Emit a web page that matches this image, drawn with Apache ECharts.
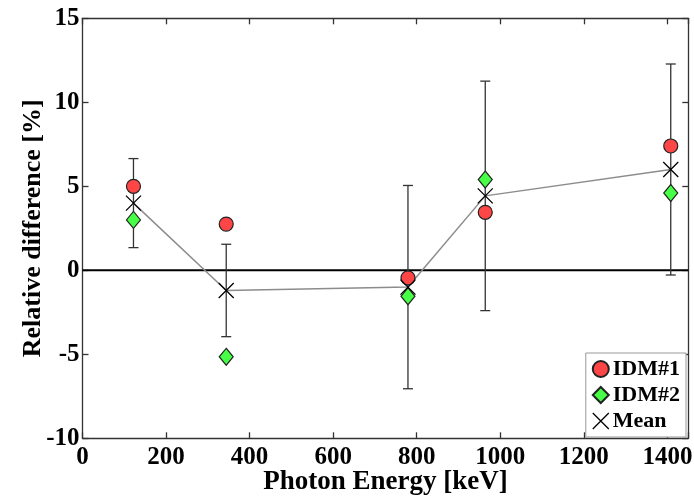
<!DOCTYPE html>
<html>
<head>
<meta charset="utf-8">
<script src="https://cdn.jsdelivr.net/npm/echarts@6/dist/echarts.min.js"></script>
<style>
  html, body { margin: 0; padding: 0; background: #fff; }
  #chart { width: 694px; height: 498px; }
</style>
</head>
<body>
<div id="chart"></div>
<script>
// Photon energies of the measured lines [keV]
const energies = [122, 344, 779, 964, 1408];
// Relative difference of each detector [%]
const idm1 = [5.0, 2.75, -0.45, 3.45, 7.4];
const idm2 = [3.0, -5.15, -1.55, 5.4, 4.6];
// Mean of both detectors and its uncertainty [%]
const meanVals = [4.0, -1.2, -1.0, 4.43, 6.0];
const meanErr = [2.65, 2.75, 6.05, 6.83, 6.28];
// Axis ticks
const xTicks = [0, 200, 400, 600, 800, 1000, 1200, 1400];
const yTicks = [-10, -5, 0, 5, 10, 15];

const FONT = '"Liberation Serif", "Times New Roman", serif';
const AXIS_COLOR = '#333';
const crossPath = 'path://M0,0L10,10M10,0L0,10';

const pairs = (ys) => energies.map((x, i) => [x, ys[i]]);

const xBase = {
  type: 'value', min: 0, max: 1450, interval: 200,
  splitLine: { show: false },
  nameMoveOverlap: false,
  axisLine: { show: true, onZero: false, lineStyle: { color: AXIS_COLOR, width: 1.3 } },
  axisTick: { show: true, inside: true, length: 6, lineStyle: { color: AXIS_COLOR, width: 1.3 } }
};
const yBase = {
  type: 'value', min: -10, max: 15, interval: 5,
  splitLine: { show: false },
  nameMoveOverlap: false,
  axisLine: { show: true, onZero: false, lineStyle: { color: AXIS_COLOR, width: 1.3 } },
  axisTick: { show: true, inside: true, length: 6, lineStyle: { color: AXIS_COLOR, width: 1.3 } }
};

const chart = echarts.init(document.getElementById('chart'), null, { renderer: 'canvas' });

chart.setOption({
  animation: false,
  backgroundColor: '#fff',
  grid: { left: 82.5, right: 5.7, top: 18.3, bottom: 59.7, containLabel: false, outerBoundsMode: 'none' },
  xAxis: [
    Object.assign({}, xBase, {
      position: 'bottom',
      name: 'Photon Energy [keV]',
      nameLocation: 'middle',
      nameGap: 30,
      nameTextStyle: { fontFamily: FONT, fontWeight: 'bold', fontSize: 27, color: '#000' },
      axisLabel: {
        margin: 7, fontFamily: FONT, fontWeight: 'bold', fontSize: 25, color: '#000',
        formatter: (v) => xTicks.indexOf(v) >= 0 ? String(v) : ''
      }
    }),
    Object.assign({}, xBase, { position: 'top', axisLabel: { show: false } })
  ],
  yAxis: [
    Object.assign({}, yBase, {
      position: 'left',
      name: 'Relative difference [%]',
      nameLocation: 'middle',
      nameGap: 36,
      nameTextStyle: { fontFamily: FONT, fontWeight: 'bold', fontSize: 26, color: '#000' },
      axisLabel: {
        margin: 3, fontFamily: FONT, fontWeight: 'bold', fontSize: 25, color: '#000',
        formatter: (v) => yTicks.indexOf(v) >= 0 ? String(v) : ''
      }
    }),
    Object.assign({}, yBase, { position: 'right', axisLabel: { show: false } })
  ],
  legend: {
    orient: 'vertical',
    right: 8,
    top: 353,
    padding: [5, 6, 5, 6],
    itemGap: 4,
    itemWidth: 16,
    itemHeight: 16,
    backgroundColor: '#fff',
    borderColor: '#999',
    borderWidth: 1,
    borderRadius: 0,
    textStyle: { fontFamily: FONT, fontWeight: 'bold', fontSize: 22, color: '#000', padding: [0, 0, 0, -1] },
    data: [
      { name: 'IDM#1', icon: 'circle' },
      { name: 'IDM#2', icon: 'diamond' },
      { name: 'Mean', icon: crossPath, itemStyle: { color: 'transparent', borderColor: '#000', borderWidth: 1.3 } }
    ]
  },
  series: [
    {
      // zero reference line
      type: 'line',
      data: [[0, 0], [1450, 0]],
      symbol: 'none',
      lineStyle: { color: '#000', width: 2 },
      silent: true,
      z: 1
    },
    {
      // uncertainty of the mean
      type: 'custom',
      data: energies.map((x, i) => [x, meanVals[i], meanErr[i]]),
      encode: { x: 0, y: 1 },
      z: 2,
      silent: true,
      renderItem: (params, api) => {
        const x = api.value(0), m = api.value(1), e = api.value(2);
        const top = api.coord([x, m + e]);
        const bot = api.coord([x, m - e]);
        const cap = 5;
        const style = { stroke: '#333', lineWidth: 1.3 };
        return {
          type: 'group',
          children: [
            { type: 'line', shape: { x1: top[0], y1: top[1], x2: bot[0], y2: bot[1] }, style },
            { type: 'line', shape: { x1: top[0] - cap, y1: top[1], x2: top[0] + cap, y2: top[1] }, style },
            { type: 'line', shape: { x1: bot[0] - cap, y1: bot[1], x2: bot[0] + cap, y2: bot[1] }, style }
          ]
        };
      }
    },
    {
      // trend of the mean
      type: 'line',
      data: pairs(meanVals),
      symbol: 'none',
      lineStyle: { color: '#8c8c8c', width: 1.5 },
      silent: true,
      z: 3
    },
    {
      name: 'IDM#1',
      type: 'scatter',
      data: pairs(idm1),
      symbol: 'circle',
      symbolSize: 14,
      itemStyle: { color: '#ff4646', borderColor: '#222', borderWidth: 1.2, opacity: 1 },
      z: 4
    },
    {
      name: 'IDM#2',
      type: 'scatter',
      data: pairs(idm2),
      symbol: 'diamond',
      symbolSize: [14, 17],
      itemStyle: { color: '#46ff46', borderColor: '#222', borderWidth: 1.2, opacity: 1 },
      z: 4
    },
    {
      name: 'Mean',
      type: 'scatter',
      data: pairs(meanVals),
      symbol: crossPath,
      symbolSize: 15,
      itemStyle: { color: 'transparent', borderColor: '#000', borderWidth: 1.3, opacity: 1 },
      z: 5
    }
  ]
});
</script>
</body>
</html>
